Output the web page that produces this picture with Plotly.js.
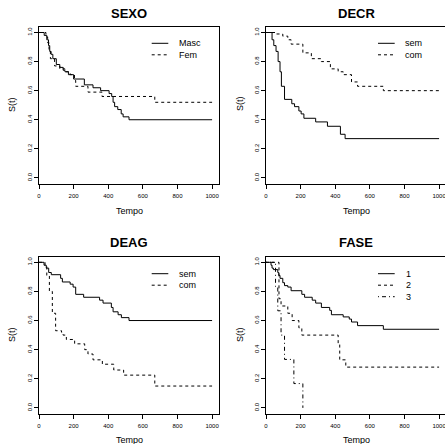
<!DOCTYPE html>
<html>
<head>
<meta charset="utf-8">
<script src="https://cdn.plot.ly/plotly-3.0.1.min.js"></script>
<style>html,body{margin:0;padding:0;background:#fff;}#chart{width:445px;height:444px;}</style>
</head>
<body>
<div id="chart"></div>
<script>
// ---- Data ----
const panelTitles = ["SEXO", "DECR", "DEAG", "FASE"];
const xTickVals = [0, 200, 400, 600, 800, 1000];
const xTickText = ["0", "200", "400", "600", "800", "1000"];
const yTickVals = [0, 0.2, 0.4, 0.6, 0.8, 1.0];
const yTickText = ["0.0", "0.2", "0.4", "0.6", "0.8", "1.0"];
const xLabel = "Tempo";
const yLabel = "S(t)";

// SEXO
const sexoNames = ["Masc", "Fem"];
const sexoMascT = [0, 30, 45, 55, 62, 70, 80, 100, 120, 140, 150, 170, 200, 262, 312, 356, 405, 420, 428, 437, 455, 475, 486, 520, 1000];
const sexoMascS = [1.0, 0.98, 0.95, 0.91, 0.87, 0.85, 0.82, 0.78, 0.76, 0.74, 0.73, 0.71, 0.68, 0.64, 0.62, 0.60, 0.58, 0.56, 0.52, 0.49, 0.47, 0.44, 0.42, 0.40, 0.40];
const sexoFemT = [0, 40, 50, 58, 66, 90, 120, 150, 180, 205, 212, 283, 364, 669, 1000];
const sexoFemS = [1.0, 0.97, 0.93, 0.87, 0.82, 0.77, 0.75, 0.73, 0.71, 0.67, 0.63, 0.59, 0.56, 0.52, 0.52];

// DECR
const decrNames = ["sem", "com"];
const decrSemT = [0, 35, 45, 58, 70, 81, 89, 107, 149, 165, 190, 203, 219, 287, 355, 430, 457, 1000];
const decrSemS = [1.0, 0.95, 0.91, 0.87, 0.80, 0.73, 0.63, 0.54, 0.51, 0.49, 0.46, 0.44, 0.41, 0.385, 0.355, 0.30, 0.27, 0.27];
const decrComT = [0, 58, 97, 126, 145, 213, 262, 320, 372, 417, 446, 494, 529, 678, 1000];
const decrComS = [1.0, 0.99, 0.975, 0.95, 0.92, 0.86, 0.82, 0.80, 0.75, 0.73, 0.71, 0.66, 0.63, 0.60, 0.60];

// DEAG
const deagNames = ["sem", "com"];
const deagSemT = [0, 29, 42, 56, 71, 125, 135, 180, 197, 212, 258, 350, 370, 418, 428, 457, 476, 520, 1000];
const deagSemS = [1.0, 0.98, 0.96, 0.93, 0.915, 0.89, 0.865, 0.85, 0.83, 0.78, 0.76, 0.74, 0.72, 0.69, 0.66, 0.64, 0.62, 0.60, 0.60];
const deagComT = [0, 35, 45, 60, 77, 96, 130, 139, 158, 206, 264, 283, 312, 366, 432, 489, 669, 1000];
const deagComS = [1.0, 0.98, 0.91, 0.80, 0.65, 0.53, 0.52, 0.50, 0.47, 0.44, 0.40, 0.37, 0.33, 0.30, 0.26, 0.225, 0.15, 0.15];

// FASE
const faseNames = ["1", "2", "3"];
const fase1T = [0, 29, 35, 43, 68, 74, 81, 97, 107, 126, 145, 207, 223, 267, 287, 320, 368, 378, 446, 481, 494, 529, 678, 1000];
const fase1S = [1.0, 0.98, 0.96, 0.95, 0.93, 0.91, 0.89, 0.86, 0.84, 0.83, 0.805, 0.78, 0.76, 0.74, 0.72, 0.69, 0.67, 0.64, 0.625, 0.61, 0.59, 0.565, 0.54, 0.54];
const fase2T = [0, 75, 87, 126, 151, 190, 207, 417, 426, 461, 1000];
const fase2S = [1.0, 0.75, 0.70, 0.65, 0.60, 0.55, 0.50, 0.44, 0.33, 0.28, 0.28];
const fase3T = [0, 55, 68, 87, 107, 161, 213];
const fase3S = [1.0, 0.833, 0.667, 0.50, 0.333, 0.167, 0.0];

// ---- Layout helpers ----
const W = 445, H = 444;
const px = x => x / W;
const py = y => 1 - y / H;
const FONT = "Liberation Sans, Arial, Helvetica, sans-serif";
const dashes = ["solid", "3px,3px", "1px,3px,4px,3px"];

function curve(t, s, k, ax) {
  return {
    x: t, y: s, type: "scatter", mode: "lines",
    line: {shape: "hv", color: "#000", width: 1, dash: dashes[k]},
    xaxis: "x" + ax, yaxis: "y" + ax, showlegend: false, hoverinfo: "skip"
  };
}

const traces = [
  curve(sexoMascT, sexoMascS, 0, ""), curve(sexoFemT, sexoFemS, 1, ""),
  curve(decrSemT, decrSemS, 0, "2"), curve(decrComT, decrComS, 1, "2"),
  curve(deagSemT, deagSemS, 0, "3"), curve(deagComT, deagComS, 1, "3"),
  curve(fase1T, fase1S, 0, "4"), curve(fase2T, fase2S, 1, "4"), curve(fase3T, fase3S, 2, "4")
];

const boxes = [
  {l: 39, r: 219, t: 26.7, b: 183.7},
  {l: 266, r: 445, t: 26.7, b: 183.7},
  {l: 39, r: 219, t: 256.5, b: 413.7},
  {l: 266, r: 445, t: 256.5, b: 413.7}
];

function xax(i) {
  const b = boxes[i];
  return {
    domain: [px(b.l), Math.min(1, px(b.r))], range: [0, 1040 * (b.r - b.l) / 180],
    anchor: i === 0 ? "y" : "y" + (i + 1),
    tickmode: "array", tickvals: xTickVals, ticktext: xTickText,
    ticks: "outside", ticklen: 4, tickwidth: 1, tickcolor: "#000", ticklabelstandoff: 2,
    ticklabeloverflow: "allow",
    showline: true, linecolor: "#000", linewidth: 1, mirror: true,
    showgrid: false, zeroline: false, fixedrange: true,
    tickfont: {family: FONT, size: 6, color: "#000"}
  };
}
function yax(i) {
  return {
    domain: [py(boxes[i].b), py(boxes[i].t)], range: [-0.04, 1.04],
    anchor: i === 0 ? "x" : "x" + (i + 1),
    tickmode: "array", tickvals: yTickVals, ticktext: yTickText, tickangle: -90,
    ticks: "outside", ticklen: 4, tickwidth: 1, tickcolor: "#000",
    showline: true, linecolor: "#000", linewidth: 1, mirror: (i === 0 || i === 2),
    showgrid: false, zeroline: false, fixedrange: true,
    tickfont: {family: FONT, size: 6, color: "#000"}
  };
}

const annotations = [];
const shapes = [];
const titleY = [13, 13, 242, 242];
const tempoY = [211, 211, 440, 440];
const stX = [12, 240, 12, 240];
const stY = [105, 104, 335, 335];
boxes.forEach((b, i) => {
  const cx = (b.l + (i % 2 === 1 ? 446 : b.r)) / 2;
  annotations.push({xref: "paper", yref: "paper", x: px(cx), y: py(titleY[i]), text: "<b>" + panelTitles[i] + "</b>",
    showarrow: false, xanchor: "center", yanchor: "middle", font: {family: FONT, size: 13, color: "#000"}});
  annotations.push({xref: "paper", yref: "paper", x: px(cx), y: py(tempoY[i]), text: xLabel,
    showarrow: false, xanchor: "center", yanchor: "middle", font: {family: FONT, size: 9, color: "#000"}});
  annotations.push({xref: "paper", yref: "paper", x: px(stX[i]), y: py(stY[i]), text: yLabel, textangle: -90,
    showarrow: false, xanchor: "center", yanchor: "middle", font: {family: FONT, size: 9, color: "#000"}});
});

// legends (drawn as key lines + text)
const legendSets = [sexoNames, decrNames, deagNames, faseNames];
const legX = [[151.7, 168.3, 176.7], [378, 394.7, 403], [151.7, 168.3, 176.7], [378, 394.7, 404]];
const legY0 = [43.3, 43.3, 273.7, 273.7];
const legStep = 11.5;
legendSets.forEach((names, i) => {
  names.forEach((nm, k) => {
    const yy = legY0[i] + k * legStep;
    shapes.push({type: "line", xref: "paper", yref: "paper", x0: px(legX[i][0]), x1: px(legX[i][1]), y0: py(yy), y1: py(yy),
      line: {color: "#000", width: 1, dash: dashes[k]}});
    annotations.push({xref: "paper", yref: "paper", x: px(legX[i][2]), y: py(yy), text: nm,
      showarrow: false, xanchor: "left", yanchor: "middle", font: {family: FONT, size: 9, color: "#000"}});
  });
});

const layout = {
  width: W, height: H, margin: {l: 0, r: 0, t: 0, b: 0},
  paper_bgcolor: "#fff", plot_bgcolor: "#fff", showlegend: false,
  xaxis: xax(0), yaxis: yax(0), xaxis2: xax(1), yaxis2: yax(1),
  xaxis3: xax(2), yaxis3: yax(2), xaxis4: xax(3), yaxis4: yax(3),
  annotations: annotations, shapes: shapes,
  font: {family: FONT, color: "#000"}
};

Plotly.newPlot("chart", traces, layout, {staticPlot: true, displayModeBar: false});
</script>
</body>
</html>
